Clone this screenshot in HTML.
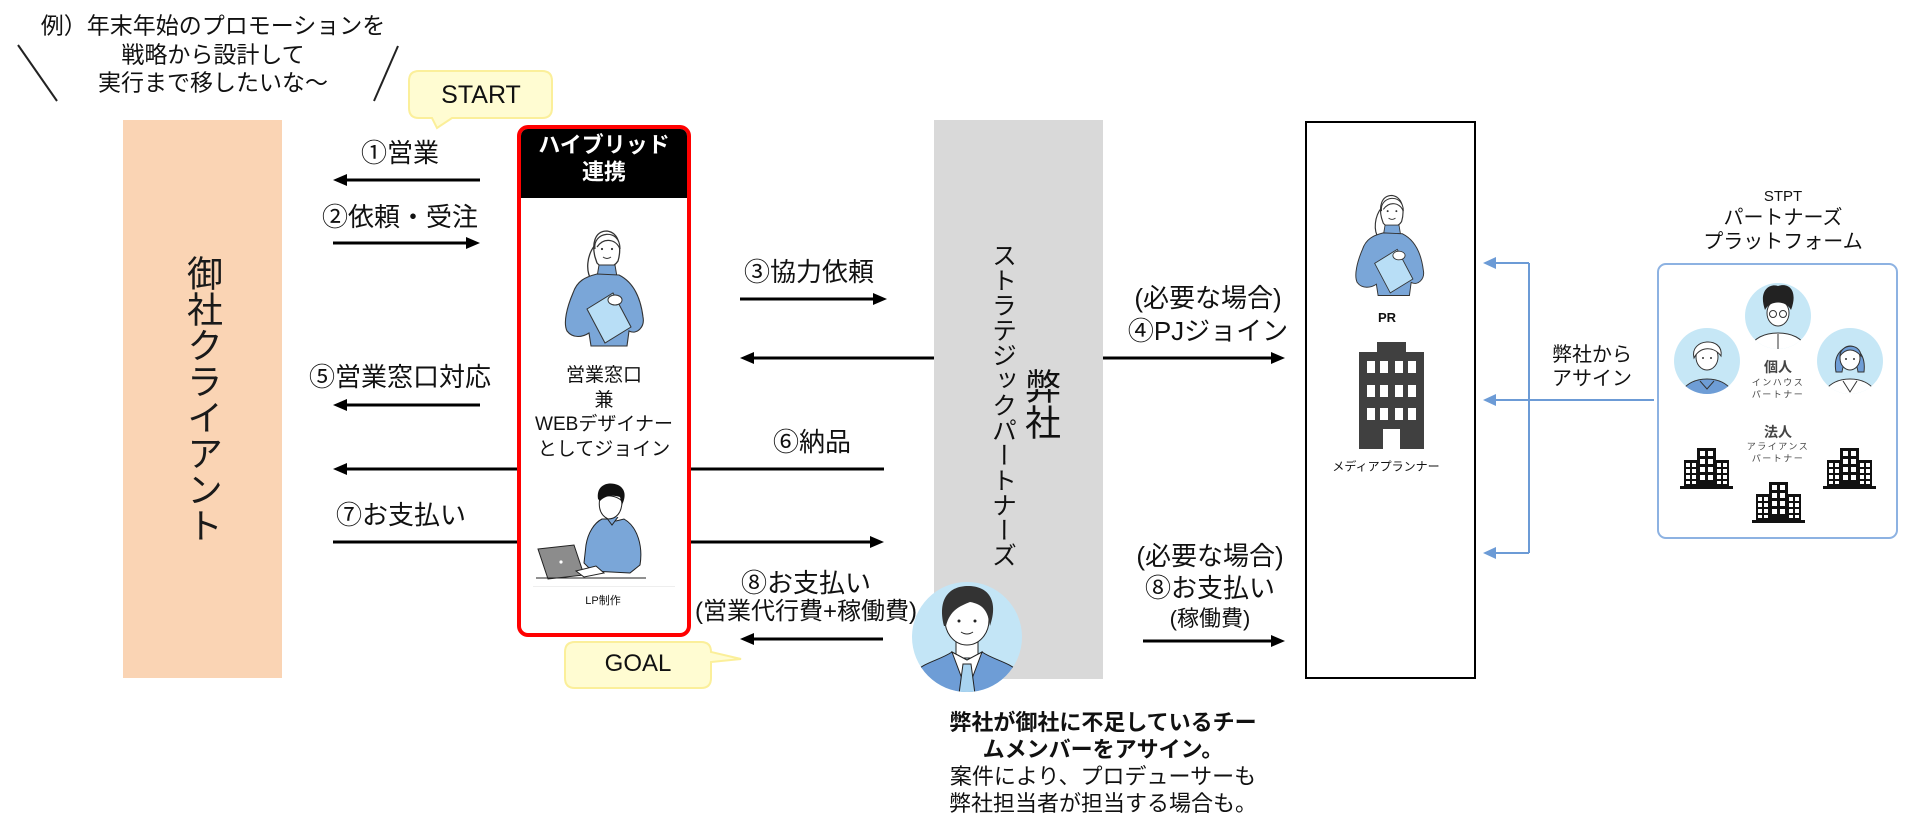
<!DOCTYPE html>
<html><head><meta charset="utf-8">
<style>
body{margin:0;width:1914px;height:828px;position:relative;overflow:hidden;background:#fff;font-family:"Liberation Sans","Noto Sans CJK JP",sans-serif;color:#111}
.t{position:absolute;white-space:nowrap;text-align:center;transform:translate(-50%,-50%);z-index:5}
.v{writing-mode:vertical-rl;line-height:1}
.box{position:absolute;box-sizing:border-box}
svg{position:absolute;left:0;top:0}
</style></head><body>

<!-- connector lines layer -->
<svg width="1914" height="828" style="z-index:0">
<g stroke="#000" stroke-width="3">
<line x1="345" y1="180" x2="480" y2="180"/>
<line x1="333" y1="243" x2="468" y2="243"/>
<line x1="740" y1="299" x2="875" y2="299"/>
<line x1="752" y1="358" x2="1273" y2="358"/>
<line x1="345" y1="405" x2="480" y2="405"/>
<line x1="345" y1="469" x2="884" y2="469"/>
<line x1="333" y1="542" x2="872" y2="542"/>
<line x1="752" y1="639" x2="883" y2="639"/>
<line x1="1143" y1="641" x2="1273" y2="641"/>
</g>
<g fill="#000">
<polygon points="333,180 347,174 347,186"/>
<polygon points="480,243 466,237 466,249"/>
<polygon points="887,299 873,293 873,305"/>
<polygon points="740,358 754,352 754,364"/>
<polygon points="1285,358 1271,352 1271,364"/>
<polygon points="333,405 347,399 347,411"/>
<polygon points="333,469 347,463 347,475"/>
<polygon points="884,542 870,536 870,548"/>
<polygon points="740,639 754,633 754,645"/>
<polygon points="1285,641 1271,635 1271,647"/>
</g>
</svg>

<!-- main boxes -->
<div class="box" style="left:123px;top:120px;width:159px;height:558px;background:#fad4b4;z-index:1"></div>
<div class="box" style="left:934px;top:120px;width:169px;height:559px;background:#d9d9d9;z-index:1"></div>
<div class="box" style="left:1305px;top:121px;width:171px;height:558px;border:2px solid #000;z-index:1"></div>
<div class="box" style="left:1657px;top:263px;width:241px;height:276px;border:2px solid #8db2e2;border-radius:9px;z-index:1"></div>
<div class="box" style="left:517px;top:125px;width:174px;height:512px;border:4px solid #ff0000;border-radius:11px;background:#fff;overflow:hidden;z-index:2">
  <div style="position:absolute;left:0;top:0;width:100%;height:69px;background:#000"></div>
  <div style="position:absolute;left:12px;right:12px;top:457px;height:1px;background:#eee"></div>
</div>

<!-- illustration & decoration layer -->
<svg width="1914" height="828" style="z-index:3">
<defs>
<g id="fem">
 <path d="M34,18 C26,28 24,44 31,54" fill="none" stroke="#333" stroke-width="1.3"/>
 <path d="M46,4 C33,4 31,18 34,30 L36,36 C41,42 52,42 57,34 C60,24 60,6 46,4 Z" fill="#fff" stroke="#333" stroke-width="1.3"/>
 <path d="M34,22 C31,5 59,0 59,22 C55,12 43,10 36,20" fill="#fff" stroke="#333" stroke-width="1.2"/>
 <circle cx="41" cy="22" r="1.1" fill="#333"/><circle cx="51" cy="22" r="1.1" fill="#333"/>
 <path d="M42,30 Q46,33 50,30" stroke="#333" fill="none" stroke-width="1"/>
 <path d="M38,38 L54,38 L56,50 L36,50 Z" fill="#7aa6d8" stroke="#333"/>
 <path d="M36,47 C24,50 16,54 12,66 C6,80 2,96 6,104 C12,112 22,110 28,106 L30,119 L66,119 L68,104 C76,108 84,100 82,90 C80,74 74,56 58,48 Z" fill="#7aa6d8" stroke="#333" stroke-width="1.1"/>
 <path d="M26,82 L52,66 L70,100 L44,116 Z" fill="#b8def6" stroke="#333"/>
 <ellipse cx="54" cy="73" rx="7" ry="5" fill="#fff" stroke="#333"/>
</g>
<g id="bld">
 <rect x="17" y="0" width="19" height="41" fill="#111"/>
 <rect x="4" y="12" width="14" height="29" fill="#111"/>
 <rect x="35" y="12" width="14" height="29" fill="#111"/>
 <rect x="0" y="38" width="53" height="3" fill="#111"/>
 <g fill="#fff">
  <rect x="20" y="3" width="5" height="5"/><rect x="28" y="3" width="5" height="5"/>
  <rect x="20" y="11" width="5" height="5"/><rect x="28" y="11" width="5" height="5"/>
  <rect x="20" y="19" width="5" height="5"/><rect x="28" y="19" width="5" height="5"/>
  <rect x="20" y="27" width="5" height="5"/><rect x="28" y="27" width="5" height="5"/>
  <rect x="6" y="15" width="4" height="4"/><rect x="12" y="15" width="4" height="4"/>
  <rect x="6" y="21" width="4" height="4"/><rect x="12" y="21" width="4" height="4"/>
  <rect x="6" y="27" width="4" height="4"/><rect x="12" y="27" width="4" height="4"/>
  <rect x="6" y="33" width="4" height="3"/><rect x="12" y="33" width="4" height="3"/>
  <rect x="37" y="15" width="4" height="4"/><rect x="43" y="15" width="4" height="4"/>
  <rect x="37" y="21" width="4" height="4"/><rect x="43" y="21" width="4" height="4"/>
  <rect x="37" y="27" width="4" height="4"/><rect x="43" y="27" width="4" height="4"/>
  <rect x="37" y="33" width="4" height="3"/><rect x="43" y="33" width="4" height="3"/>
 </g>
</g>
<clipPath id="c1"><circle cx="967" cy="637" r="55"/></clipPath>
<clipPath id="c2"><circle cx="1707" cy="361" r="33"/></clipPath>
<clipPath id="c3"><circle cx="1778" cy="316" r="33"/></clipPath>
<clipPath id="c4"><circle cx="1850" cy="361" r="33"/></clipPath>
</defs>

<!-- slashes -->
<line x1="18" y1="45" x2="57" y2="101" stroke="#222" stroke-width="2"/>
<line x1="398" y1="46" x2="374" y2="101" stroke="#222" stroke-width="2"/>

<!-- START bubble -->
<path d="M419,71 L542,71 Q552,71 552,81 L552,108 Q552,118 542,118 L452,118 L437,128 L432,118 L419,118 Q409,118 409,108 L409,81 Q409,71 419,71 Z" fill="#fffcd2" stroke="#fbef9a" stroke-width="2"/>
<!-- GOAL bubble -->
<path d="M575,642 L701,642 Q711,642 711,652 L711,652 L741,659 L711,662 L711,678 Q711,688 701,688 L575,688 Q565,688 565,678 L565,652 Q565,642 575,642 Z" fill="#fffcd2" stroke="#fbef9a" stroke-width="2"/>

<!-- female in red box -->
<use href="#fem" transform="translate(561,227)"/>
<!-- female PR -->
<use href="#fem" transform="translate(1352,192) scale(0.87)"/>

<!-- male with laptop -->
<g transform="translate(536,483)">
 <path d="M66,36 C58,40 52,50 50,62 L48,80 L56,88 L94,90 L104,82 C107,64 102,44 88,36 L80,38 L72,36 Z" fill="#7aa6d8" stroke="#222"/>
 <path d="M70,34 L76,42 L82,34" fill="#7aa6d8" stroke="#222"/>
 <path d="M64,14 C62,24 64,32 72,36 C80,36 86,30 86,18 C80,12 70,12 64,14 Z" fill="#fff" stroke="#222"/>
 <path d="M62,16 C60,2 72,-2 82,2 C90,6 90,14 86,22 L84,14 C78,12 70,12 64,18 Z" fill="#111"/>
 <path d="M2,66 L38,62 L48,92 L12,96 Z" fill="#8c8c8c" stroke="#222"/>
 <circle cx="25" cy="79" r="1.6" fill="#fff"/>
 <path d="M40,88 L60,83 L68,90 L48,94 Z" fill="#fff" stroke="#222"/>
 <line x1="0" y1="95" x2="110" y2="95" stroke="#222" stroke-width="1"/>
</g>

<!-- man in circle -->
<circle cx="967" cy="637" r="55" fill="#c3e5f6"/>
<g clip-path="url(#c1)">
 <rect x="956" y="636" width="22" height="22" fill="#fff" stroke="#222"/>
 <path d="M905,700 L915,672 C925,662 940,660 952,652 L967,676 L982,652 C994,660 1009,662 1019,672 L1029,700 Z" fill="#6e9dd6" stroke="#222"/>
 <path d="M952,652 L967,692 L982,652 L967,660 Z" fill="#fff" stroke="#222"/>
 <path d="M963,664 L971,664 L975,694 L959,694 Z" fill="#a9d4f0" stroke="#222"/>
 <ellipse cx="967" cy="620" rx="22" ry="25" fill="#fff" stroke="#222"/>
 <path d="M944,626 C937,598 950,586 968,586 C988,586 999,600 990,626 C988,610 982,604 970,602 C960,606 950,610 946,626 Z" fill="#333"/>
 <circle cx="959" cy="621" r="1.5" fill="#222"/><circle cx="975" cy="621" r="1.5" fill="#222"/>
 <path d="M961,632 Q967,636 973,632" stroke="#222" fill="none"/>
</g>

<!-- media planner building -->
<g fill="#404040">
 <rect x="1377" y="342" width="29" height="12"/>
 <rect x="1359" y="352" width="65" height="97"/>
</g>
<g fill="#fff">
 <rect x="1367" y="361" width="8" height="12"/><rect x="1380" y="361" width="8" height="12"/><rect x="1395" y="361" width="8" height="12"/><rect x="1408" y="361" width="8" height="12"/>
 <rect x="1367" y="385" width="8" height="12"/><rect x="1380" y="385" width="8" height="12"/><rect x="1395" y="385" width="8" height="12"/><rect x="1408" y="385" width="8" height="12"/>
 <rect x="1367" y="408" width="8" height="12"/><rect x="1380" y="408" width="8" height="12"/><rect x="1395" y="408" width="8" height="12"/><rect x="1408" y="408" width="8" height="12"/>
 <rect x="1383" y="429" width="17" height="20"/>
</g>

<!-- blue assign arrows -->
<g stroke="#6c9bd6" stroke-width="2" fill="none">
 <line x1="1529" y1="263" x2="1529" y2="553"/>
 <line x1="1494" y1="263" x2="1529" y2="263"/>
 <line x1="1494" y1="553" x2="1529" y2="553"/>
 <line x1="1494" y1="400" x2="1654" y2="400"/>
</g>
<g fill="#6c9bd6">
 <polygon points="1483,263 1496,257 1496,269"/>
 <polygon points="1483,400 1496,394 1496,406"/>
 <polygon points="1483,553 1496,547 1496,559"/>
</g>

<!-- partner circles -->
<circle cx="1707" cy="361" r="33" fill="#c6e7f6"/>
<g clip-path="url(#c2)">
 <path d="M1678,400 C1682,384 1695,379 1707,379 C1719,379 1732,384 1736,400 Z" fill="#6e9dd6" stroke="#333"/>
 <path d="M1700,381 L1707,389 L1714,381" fill="none" stroke="#333"/>
 <ellipse cx="1707" cy="357" rx="11" ry="13" fill="#fff" stroke="#333"/>
 <path d="M1694,358 C1689,338 1724,336 1721,356 C1714,346 1700,346 1694,358 Z" fill="#fff" stroke="#333"/>
 <circle cx="1703" cy="358" r="1" fill="#333"/><circle cx="1711" cy="358" r="1" fill="#333"/>
</g>
<circle cx="1778" cy="316" r="33" fill="#c6e7f6"/>
<g clip-path="url(#c3)">
 <path d="M1748,352 C1752,337 1766,333 1778,333 C1790,333 1804,337 1808,352 Z" fill="#fff" stroke="#333"/>
 <line x1="1778" y1="334" x2="1778" y2="352" stroke="#333"/>
 <ellipse cx="1778" cy="313" rx="11" ry="13" fill="#fff" stroke="#333"/>
 <path d="M1765,310 C1758,290 1770,283 1778,286 C1790,282 1798,292 1791,310 C1786,300 1770,300 1765,310 Z" fill="#222"/>
 <circle cx="1773" cy="314" r="3.5" fill="none" stroke="#333"/><circle cx="1783" cy="314" r="3.5" fill="none" stroke="#333"/>
</g>
<circle cx="1850" cy="361" r="33" fill="#c6e7f6"/>
<g clip-path="url(#c4)">
 <path d="M1821,400 C1825,384 1838,379 1850,379 C1862,379 1875,384 1879,400 Z" fill="#fff" stroke="#333"/>
 <path d="M1843,381 L1850,392 L1857,381" fill="none" stroke="#333"/>
 <path d="M1836,372 C1830,340 1868,338 1864,372 L1858,372 C1856,356 1844,356 1842,372 Z" fill="#6e9dd6" stroke="#333"/>
 <ellipse cx="1850" cy="358" rx="10" ry="12" fill="#fff" stroke="#333"/>
 <path d="M1840,356 C1840,344 1860,342 1861,356 C1854,348 1846,348 1840,356 Z" fill="#6e9dd6" stroke="#333"/>
 <circle cx="1846" cy="359" r="1" fill="#333"/><circle cx="1854" cy="359" r="1" fill="#333"/>
</g>

<!-- partner buildings -->
<use href="#bld" transform="translate(1680,448)"/>
<use href="#bld" transform="translate(1823,448)"/>
<use href="#bld" transform="translate(1752,482)"/>
</svg>

<!-- text -->
<div class="t" style="left:213px;top:54px;font-size:23px;line-height:28.5px">例）年末年始のプロモーションを<br>戦略から設計して<br>実行まで移したいな～</div>
<div class="t" style="left:481px;top:95px;font-size:25px;line-height:30px">START</div>

<div class="t v" style="left:202px;top:399px;font-size:36px;color:#1a1a1a">御社クライアント</div>

<div class="t" style="left:400px;top:153px;font-size:26px;line-height:32px">①営業</div>
<div class="t" style="left:400px;top:217px;font-size:26px;line-height:32px">②依頼・受注</div>
<div class="t" style="left:400px;top:377px;font-size:26px;line-height:32px">⑤営業窓口対応</div>
<div class="t" style="left:401px;top:515px;font-size:26px;line-height:32px">⑦お支払い</div>

<div class="t" style="left:604px;top:145px;font-size:22px;line-height:27px;color:#fff;font-weight:bold">ハイブリッド</div>
<div class="t" style="left:604px;top:172px;font-size:22px;line-height:27px;color:#fff;font-weight:bold">連携</div>
<div class="t" style="left:604px;top:413px;font-size:19px;line-height:24.5px">営業窓口<br>兼<br>WEBデザイナー<br>としてジョイン</div>
<div class="t" style="left:603px;top:601px;font-size:11px;line-height:14px">LP制作</div>
<div class="t" style="left:638px;top:664px;font-size:24px;line-height:30px">GOAL</div>

<div class="t" style="left:809px;top:272px;font-size:26px;line-height:32px">③協力依頼</div>
<div class="t" style="left:812px;top:442px;font-size:26px;line-height:32px">⑥納品</div>
<div class="t" style="left:806px;top:583px;font-size:26px;line-height:32px">⑧お支払い</div>
<div class="t" style="left:806px;top:612px;font-size:24px;line-height:30px">(営業代行費+稼働費)</div>

<div class="t v" style="left:1040px;top:404px;font-size:36px">弊社</div>
<div class="t v" style="left:1002px;top:405px;font-size:25px">ストラテジックパートナーズ</div>

<div class="t" style="left:1208px;top:298px;font-size:26px;line-height:32px">(必要な場合)</div>
<div class="t" style="left:1208px;top:331px;font-size:26px;line-height:32px">④PJジョイン</div>
<div class="t" style="left:1210px;top:556px;font-size:26px;line-height:32px">(必要な場合)</div>
<div class="t" style="left:1210px;top:588px;font-size:26px;line-height:32px">⑧お支払い</div>
<div class="t" style="left:1210px;top:619px;font-size:22px;line-height:28px">(稼働費)</div>

<div class="t" style="left:1387px;top:318px;font-size:13px;line-height:16px;font-weight:bold">PR</div>
<div class="t" style="left:1386px;top:467px;font-size:12px;line-height:15px">メディアプランナー</div>

<div class="t" style="left:1592px;top:367px;font-size:20px;line-height:24px">弊社から<br>アサイン</div>

<div class="t" style="left:1783px;top:197px;font-size:15px;line-height:18px">STPT</div>
<div class="t" style="left:1783px;top:218px;font-size:20px;line-height:24px">パートナーズ</div>
<div class="t" style="left:1783px;top:242px;font-size:20px;line-height:24px">プラットフォーム</div>

<div class="t" style="left:1778px;top:367px;font-size:14px;line-height:16px;font-weight:bold;color:#444">個人</div>
<div class="t" style="left:1778px;top:383px;font-size:9px;line-height:11px;letter-spacing:1.5px;color:#444">インハウス</div>
<div class="t" style="left:1778px;top:395px;font-size:9px;line-height:11px;letter-spacing:1.5px;color:#444">パートナー</div>
<div class="t" style="left:1778px;top:432px;font-size:14px;line-height:16px;font-weight:bold;color:#444">法人</div>
<div class="t" style="left:1778px;top:447px;font-size:9px;line-height:11px;letter-spacing:1.5px;color:#444">アライアンス</div>
<div class="t" style="left:1778px;top:459px;font-size:9px;line-height:11px;letter-spacing:1.5px;color:#444">パートナー</div>

<div class="t" style="left:1103px;top:763px;font-size:22px;line-height:27px">
<b>弊社が御社に不足しているチー<br>ムメンバーをアサイン。</b><br>案件により、プロデューサーも<br>弊社担当者が担当する場合も。</div>

</body></html>
